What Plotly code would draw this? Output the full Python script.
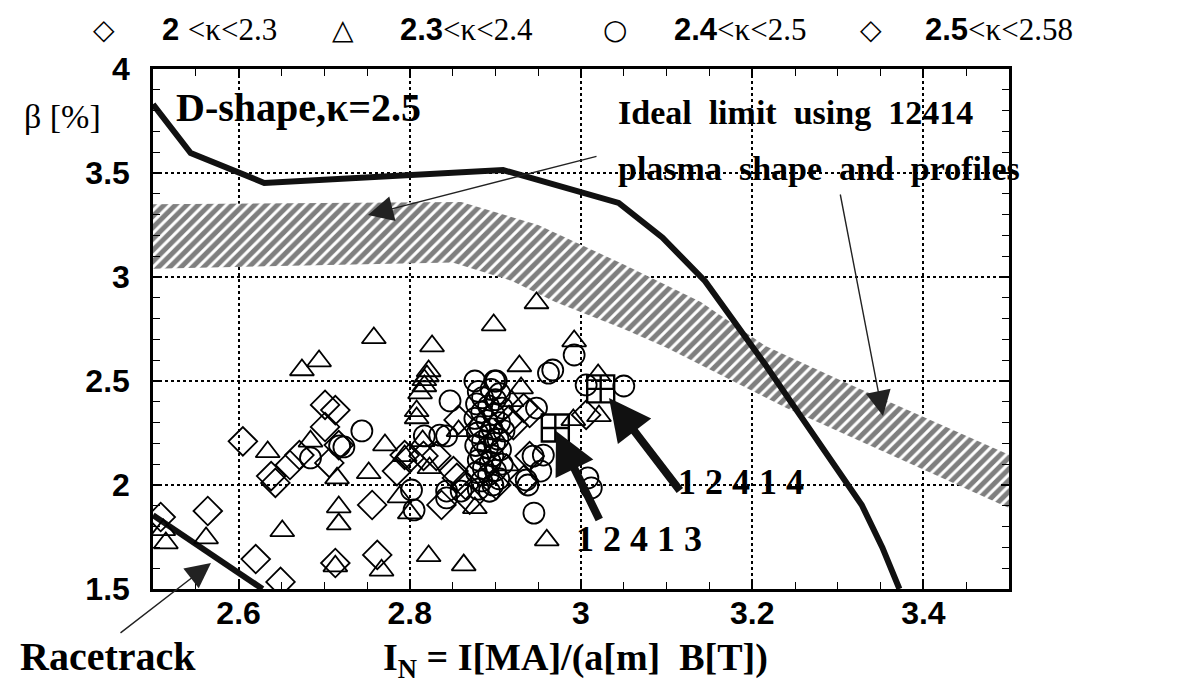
import plotly.graph_objects as go

# ---------------- data ----------------
dshape_x = [2.50, 2.544, 2.63, 2.773, 2.909, 3.044, 3.095, 3.145, 3.215, 3.328, 3.352, 3.372]
dshape_y = [3.83, 3.596, 3.452, 3.486, 3.514, 3.356, 3.19, 2.98, 2.58, 1.904, 1.70, 1.50]

race_x = [2.50, 2.628]
race_y = [1.855, 1.50]

band_top_x = [2.50, 2.86, 2.95, 3.05, 3.14, 3.215, 3.305, 3.50]
band_top_y = [3.35, 3.36, 3.25, 3.06, 2.88, 2.67, 2.50, 2.145]
band_bot_x = [2.50, 2.85, 2.92, 2.97, 3.05, 3.10, 3.24, 3.50]
band_bot_y = [3.04, 3.07, 2.98, 2.88, 2.75, 2.66, 2.37, 1.89]

# 2 < kappa < 2.3 (diamonds)
k1_x = [2.509, 2.564, 2.605, 2.620, 2.649, 2.638, 2.643, 2.660, 2.671, 2.701, 2.713, 2.701,
        2.706, 2.717, 2.713, 2.756, 2.785, 2.762]
k1_y = [1.846, 1.875, 2.210, 1.644, 1.534, 2.043, 2.010, 2.096, 2.144, 2.385, 2.360, 2.279,
        2.106, 2.192, 1.625, 1.904, 2.067, 1.664]

# 2.3 < kappa < 2.4 (triangles)
k2_x = [2.512, 2.515, 2.562, 2.634, 2.651, 2.674, 2.694, 2.684, 2.715, 2.717, 2.717, 2.713,
        2.758, 2.771, 2.752, 2.788, 2.800, 2.822, 2.767, 2.820, 2.817, 2.812, 2.808, 2.808,
        2.794, 2.826, 2.898, 2.815, 2.857, 2.823, 2.876, 2.948, 2.992, 2.928, 2.930, 2.919,
        2.991, 3.020, 3.021, 2.913, 2.960, 2.822, 2.817, 2.863]
k2_y = [1.784, 1.721, 1.745, 2.159, 1.779, 2.553, 2.596, 2.210, 2.033, 1.894, 1.812, 1.610,
        2.707, 2.192, 2.058, 1.942, 1.865, 1.659, 1.590, 2.524, 2.476, 2.442, 2.356, 2.322,
        2.140, 2.668, 2.769, 2.212, 2.260, 2.082, 1.890, 2.875, 2.692, 2.572, 2.466, 2.404,
        2.313, 2.529, 2.332, 2.096, 1.735, 2.548, 2.505, 1.615]

# 2.4 < kappa < 2.5 (circles)
k3_x = [2.684, 2.718, 2.744, 2.723, 2.802, 2.805, 2.817, 2.835, 2.847, 2.876, 2.899, 2.843,
        2.843, 2.860, 2.843, 2.992, 2.962, 2.967, 2.901, 2.948, 3.006, 3.050, 2.956, 2.953,
        2.936, 2.938, 2.944, 3.008, 3.012, 2.945,
        2.880, 2.895, 2.905, 2.885, 2.900, 2.878, 2.892, 2.908, 2.884, 2.898, 2.876, 2.890,
        2.905, 2.882, 2.896, 2.910, 2.879, 2.893, 2.903, 2.885, 2.899, 2.877, 2.891, 2.906,
        2.883, 2.897, 2.880, 2.894, 2.908, 2.886, 2.900, 2.878, 2.892, 2.904, 2.884, 2.897,
        2.880, 2.893]
k3_y = [2.130, 2.188, 2.260, 2.183, 1.976, 1.880, 2.236, 2.240, 2.404, 2.500, 2.500, 2.236,
        1.971, 1.971, 1.938, 2.625, 2.538, 2.553, 2.500, 2.370, 2.481, 2.476, 2.144, 2.067,
        2.024, 2.000, 2.139, 2.034, 1.986, 1.865,
        2.45, 2.46, 2.44, 2.42, 2.41, 2.39, 2.38, 2.37, 2.35, 2.34, 2.32, 2.31,
        2.30, 2.28, 2.27, 2.26, 2.25, 2.24, 2.22, 2.21, 2.20, 2.19, 2.18, 2.17,
        2.15, 2.14, 2.12, 2.11, 2.10, 2.08, 2.07, 2.06, 2.05, 2.03, 2.02, 2.00,
        1.98, 1.97]

# 2.5 < kappa < 2.58 (diamonds)
k4_x = [2.857, 2.794, 2.800, 2.816, 2.831, 2.851, 2.855, 2.837, 2.933, 2.940, 2.916, 2.921,
        3.006, 2.940, 2.933, 2.901, 2.865, 2.870]
k4_y = [2.313, 2.144, 2.130, 2.140, 2.140, 2.067, 2.034, 1.904, 2.370, 2.346, 2.313, 2.288,
        2.337, 2.139, 2.024, 2.000, 2.000, 1.930]

shots_x = [2.970, 3.023]
shots_y = [2.274, 2.462]
shot_labels = ["1 2 4 1 3", "1 2 4 1 4"]

legend_labels = ["2 <κ<2.3", "2.3<κ<2.4", "2.4<κ<2.5", "2.5<κ<2.58"]
x_ticks = [2.6, 2.8, 3.0, 3.2, 3.4]
x_ticklabels = ["2.6", "2.8", "3", "3.2", "3.4"]
y_ticks = [1.5, 2.0, 2.5, 3.0, 3.5, 4.0]
y_ticklabels = ["1.5", "2", "2.5", "3", "3.5", "4"]

# ---------------- layout helpers ----------------
W, H = 1177, 684
L, R, T, B = 145, 1001, 61, 581


def px(xp):
    return (xp - L) / (R - L)


def py(yp):
    return (B - yp) / (B - T)


def xd(xp):
    return 2.5 + (xp - L) / (R - L) * 1.0


def yd(yp):
    return 4.0 - (yp - T) / (B - T) * 2.5


SERIF = "Liberation Serif"
SANS = "Liberation Sans"

fig = go.Figure()

# hatched band (ideal limit)
fig.add_trace(go.Scatter(
    x=band_top_x + band_bot_x[::-1], y=band_top_y + band_bot_y[::-1],
    mode="lines", fill="toself", line=dict(width=0, color="black"),
    fillcolor="white",
    fillpattern=dict(shape="/", fgcolor="black", bgcolor="white", size=8, solidity=0.62),
    hoverinfo="skip", showlegend=False))

# D-shape curve
fig.add_trace(go.Scatter(x=dshape_x, y=dshape_y, mode="lines",
                         line=dict(color="#111", width=6), showlegend=False))
# racetrack
fig.add_trace(go.Scatter(x=race_x, y=race_y, mode="lines",
                         line=dict(color="#111", width=6), showlegend=False))

mk = dict(color="black", line=dict(color="black", width=1.8))
fig.add_trace(go.Scatter(x=k1_x, y=k1_y, mode="markers", name=legend_labels[0],
                         marker=dict(symbol="diamond-open", size=22, **mk), showlegend=False))
fig.add_trace(go.Scatter(x=k2_x, y=k2_y, mode="markers", name=legend_labels[1],
                         marker=dict(symbol="triangle-up-open", size=21, **mk), showlegend=False))
fig.add_trace(go.Scatter(x=k3_x, y=k3_y, mode="markers", name=legend_labels[2],
                         marker=dict(symbol="circle-open", size=21, **mk), showlegend=False))
fig.add_trace(go.Scatter(x=k4_x, y=k4_y, mode="markers", name=legend_labels[3],
                         marker=dict(symbol="diamond-open", size=22, **mk), showlegend=False))
fig.add_trace(go.Scatter(x=shots_x, y=shots_y, mode="markers",
                         marker=dict(symbol="square-cross-open", size=27,
                                     color="black", line=dict(color="black", width=2.4)),
                         showlegend=False))

ann = []

# legend row (as text)
leg_sym = ["◇", "△", "○", "◇"]
leg_sym_x = [96, 335, 607, 863]
leg_txt_x = [152, 390, 664, 915]
for s, sx, lab, tx in zip(leg_sym, leg_sym_x, legend_labels, leg_txt_x):
    ann.append(dict(x=px(sx), y=py(21), xref="paper", yref="paper", text=s,
                    showarrow=False, xanchor="center", yanchor="middle",
                    font=dict(family="DejaVu Sans", size=28, color="black")))
    num, rest = lab.split("<", 1)
    html = (f"<span style='font-family:{SANS};font-weight:bold'>{num}</span>"
            f"&lt;{rest.replace('<', '&lt;')}")
    ann.append(dict(x=px(tx), y=py(21), xref="paper", yref="paper", text=html,
                    showarrow=False, xanchor="left", yanchor="middle",
                    font=dict(family=SERIF, size=31, color="black")))

# y-axis title
ann.append(dict(x=px(14), y=py(108), xref="paper", yref="paper", text="β [%]",
                showarrow=False, xanchor="left", yanchor="middle",
                font=dict(family=SERIF, size=34, color="black")))
# x-axis title
ann.append(dict(x=px(567), y=py(652), xref="paper", yref="paper",
                text="I<sub>N</sub> = I[MA]/(a[m]  B[T])",
                showarrow=False, xanchor="center", yanchor="middle",
                font=dict(family=SERIF, size=38, color="black", weight="bold")))
# Racetrack
ann.append(dict(x=px(10), y=py(648), xref="paper", yref="paper", text="Racetrack",
                showarrow=False, xanchor="left", yanchor="middle",
                font=dict(family=SERIF, size=40, color="black", weight="bold")))
# D-shape
ann.append(dict(x=px(166), y=py(100), xref="paper", yref="paper", text="D-shape,κ=2.5",
                showarrow=False, xanchor="left", yanchor="middle",
                font=dict(family=SERIF, size=40, color="black", weight="bold")))
# Ideal limit text
ann.append(dict(x=px(608), y=py(104), xref="paper", yref="paper",
                text="Ideal  limit  using  12414",
                showarrow=False, xanchor="left", yanchor="middle",
                font=dict(family=SERIF, size=34, color="black", weight="bold")))
ann.append(dict(x=px(608), y=py(160), xref="paper", yref="paper",
                text="plasma  shape  and  profiles",
                showarrow=False, xanchor="left", yanchor="middle",
                font=dict(family=SERIF, size=34, color="black", weight="bold")))
# shot labels
ann.append(dict(x=px(566), y=py(531), xref="paper", yref="paper", text=shot_labels[0],
                showarrow=False, xanchor="left", yanchor="middle",
                font=dict(family=SERIF, size=36, color="black", weight="bold")))
ann.append(dict(x=px(668), y=py(474), xref="paper", yref="paper", text=shot_labels[1],
                showarrow=False, xanchor="left", yanchor="middle",
                font=dict(family=SERIF, size=36, color="black", weight="bold")))

# arrows (head point in data coords, tail offset in pixels)
thin = dict(showarrow=True, text="", arrowhead=2, arrowcolor="#222",
            arrowwidth=1.4, arrowsize=3.6, standoff=0, xref="x", yref="y")
ann.append(dict(x=xd(360), y=yd(207), ax=230, ay=-59, **thin))
ann.append(dict(x=xd(875), y=yd(408), ax=-43, ay=-223, **thin))
ann.append(dict(x=xd(203), y=yd(555), ax=-92, ay=71, **thin))

thick = dict(showarrow=True, text="", arrowhead=2, arrowcolor="#111",
             arrowwidth=8, arrowsize=1.05, standoff=0, xref="x", yref="y")
ann.append(dict(x=xd(548), y=yd(423), ax=44, ay=90, **thick))
ann.append(dict(x=xd(601), y=yd(390), ax=72, ay=94, **thick))

axis_common = dict(showline=True, linecolor="black", linewidth=2.5, mirror="ticks",
                   ticks="inside", ticklen=8, tickwidth=1.6, tickcolor="black",
                   showgrid=True, gridcolor="black", griddash="dot", gridwidth=1.6,
                   zeroline=False, layer="above traces")

fig.update_layout(
    width=W, height=H,
    margin=dict(l=L, r=W - R, t=T, b=H - B, autoexpand=False),
    paper_bgcolor="white", plot_bgcolor="white",
    showlegend=False,
    font=dict(family=SERIF, color="black"),
    annotations=ann,
    xaxis=dict(range=[2.5, 3.5], tickvals=x_ticks, ticktext=x_ticklabels,
               tickfont=dict(family=SANS, size=32, color="black", weight="bold"),
               minor=dict(dtick=0.05, tick0=2.5, ticks="inside", ticklen=7,
                          tickcolor="black", tickwidth=1.3, showgrid=False),
               ticklabelstandoff=-6,
               **axis_common),
    yaxis=dict(range=[1.5, 4.0], tickvals=y_ticks, ticktext=y_ticklabels,
               tickfont=dict(family=SANS, size=32, color="black", weight="bold"),
               minor=dict(dtick=0.1, tick0=1.5, ticks="inside", ticklen=7,
                          tickcolor="black", tickwidth=1.3, showgrid=False),
               ticklabelstandoff=14,
               **axis_common),
)

fig.write_html("out.html")
